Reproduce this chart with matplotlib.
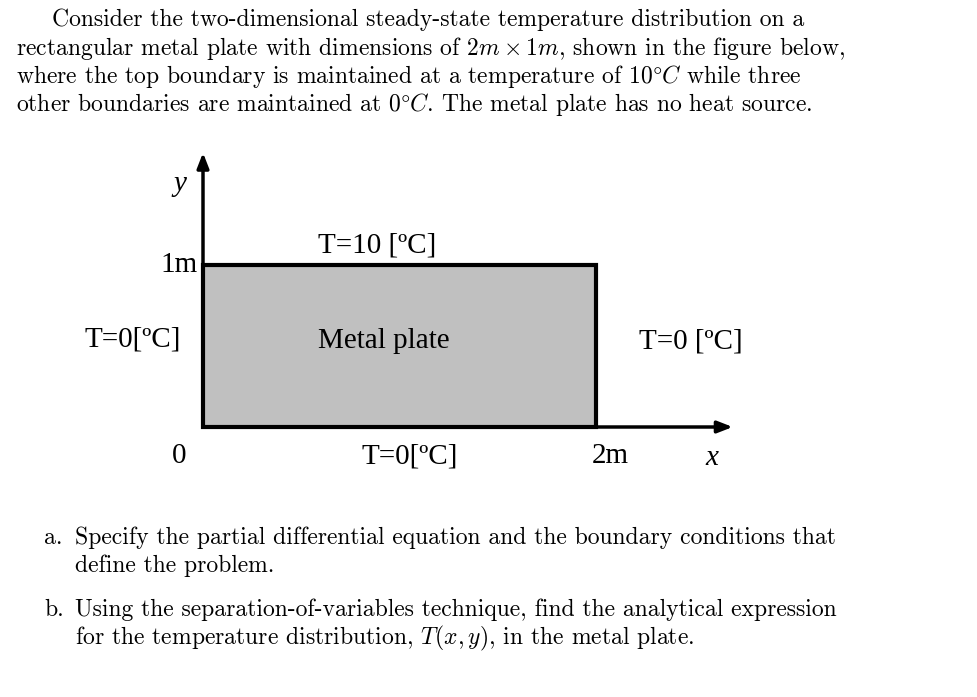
import matplotlib.pyplot as plt

plt.rcParams['mathtext.fontset'] = 'cm'

# ---- DATA ----
plate_w, plate_h = 2, 1
intro_lines = [
    "Consider the two-dimensional steady-state temperature distribution on a",
    r"rectangular metal plate with dimensions of $2m \times 1m$, shown in the figure below,",
    r"where the top boundary is maintained at a temperature of $10\degree C$ while three",
    r"other boundaries are maintained at $0\degree C$. The metal plate has no heat source.",
]
question_lines = [
    ("a.", ["Specify the partial differential equation and the boundary conditions that",
            "define the problem."]),
    ("b.", ["Using the separation-of-variables technique, find the analytical expression",
            r"for the temperature distribution, $T(x, y)$, in the metal plate."]),
]
labels_top, labels_bottom = "T=10 [ºC]", "T=0[ºC]"
labels_left, labels_right = "T=0[ºC]", "T=0 [ºC]"

W, H = 977, 697
fig = plt.figure(figsize=(W / 100, H / 100), dpi=100)

# ---- TEXT ----
txt = dict(family='cmr10', fontsize=17, va='center', ha='left')
indent = [52, 16, 16, 16]
for i, line in enumerate(intro_lines):
    fig.text(indent[i] / W, 1 - (20 + 28 * i) / H, line, **txt)
qy = [538, 610]
for (tag, lines), y0 in zip(question_lines, qy):
    fig.text(44 / W, 1 - y0 / H, tag, **txt)
    for j, line in enumerate(lines):
        fig.text(75 / W, 1 - (y0 + 28 * j) / H, line, **txt)

# ---- DIAGRAM ----
x0, x1, yb, yt = 203, 596, 427, 265
ax = fig.add_axes([x0 / W, 1 - yb / H, (x1 - x0) / W, (yb - yt) / H])
ax.set_xlim(0, plate_w)
ax.set_ylim(0, plate_h)
ax.axis('off')
ax.add_patch(plt.Rectangle((0, 0), plate_w, plate_h, facecolor='#c0c0c0',
                           edgecolor='black', lw=3, clip_on=False))
arr = dict(arrowstyle='-|>,head_width=0.35,head_length=0.9', color='black', lw=2.5)
ax.annotate('', xy=(0, 1.71), xytext=(0, 0), arrowprops=arr, annotation_clip=False)
ax.annotate('', xy=(2.71, 0), xytext=(0, 0), arrowprops=arr, annotation_clip=False)

f = dict(family='Liberation Serif', fontsize=21, ha='center', va='center', clip_on=False)
ax.text(0.885, 1.12, labels_top, **f)
ax.text(0.92, 0.53, "Metal plate", **f)
ax.text(1.05, -0.18, labels_bottom, **f)
ax.text(-0.36, 0.54, labels_left, **f)
ax.text(2.48, 0.53, labels_right, **f)
ax.text(-0.12, 1.0, "1m", **f)
ax.text(-0.12, -0.18, "0", **f)
ax.text(2.07, -0.18, "2m", **f)
ax.text(2.59, -0.19, "x", style='italic', **f)
ax.text(-0.117, 1.5, "y", style='italic', **f)

fig.savefig('out.png', dpi=100)
